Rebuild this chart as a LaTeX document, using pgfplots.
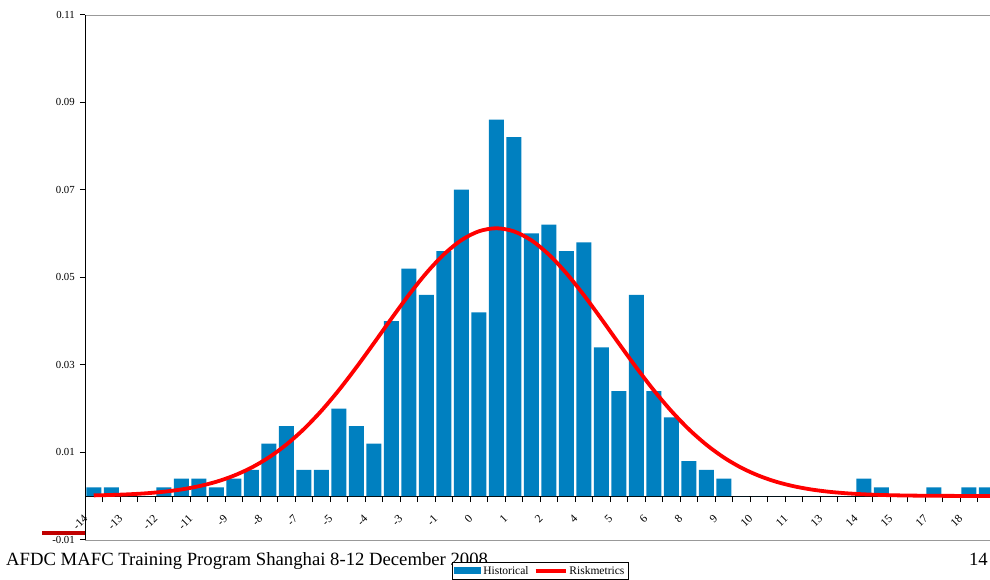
\documentclass[border=0pt]{standalone}
\usepackage{pgfplots}
\pgfplotsset{compat=1.18}
\usepackage{fontspec}
\setmainfont{Liberation Serif}
\definecolor{barblue}{HTML}{0080C0}
\definecolor{darkred}{HTML}{C00000}
\begin{document}
\begin{tikzpicture}
\useasboundingbox (0pt,0pt) rectangle (990pt,579pt);
% footer text (drawn first so the legend covers it)
\node[anchor=base west, inner sep=0pt, font=\fontsize{18.7}{20}\selectfont] at (6pt,14pt) {AFDC MAFC Training Program Shanghai 8-12 December 2008};
\node[anchor=base east, inner sep=0pt, font=\fontsize{18.7}{20}\selectfont] at (988pt,14pt) {14};
% decorative mark
\draw[darkred, line width=4.5pt] (42pt,46pt) -- (85pt,46pt);
% plot area frame (top and bottom)
\draw[gray!80, line width=0.8pt] (85pt,564pt) -- (1005pt,564pt);
\draw[gray!80, line width=0.8pt] (85pt,39pt) -- (1005pt,39pt);
\begin{axis}[
  at={(85pt,83pt)}, anchor=origin,
  scale only axis, width=920pt, height=525pt,
  xmin=0, xmax=52.57, ymin=-0.01, ymax=0.11,
  axis x line=middle, axis y line=left,
  axis line style={-, black, line width=0.8pt},
  tick align=outside,
  xtick={0.5,2.5,...,50.5},
  xticklabels={-14,-13,-12,-11,-9,-8,-7,-5,-4,-3,-1,0,1,2,4,5,6,8,9,10,11,13,14,15,17,18},
  minor xtick={0,1,...,53},
  major x tick style={draw=none},
  minor x tick style={black, line width=0.6pt},
  minor tick length=6pt,
  major tick length=5pt,
  ytick={-0.01,0.01,0.03,0.05,0.07,0.09,0.11},
  yticklabels={-0.01,0.01,0.03,0.05,0.07,0.09,0.11},
  y tick style={black, line width=0.6pt},
  yticklabel style={font=\fontsize{10.8}{12}\selectfont, inner sep=0pt, xshift=-5pt},
  xticklabel style={font=\fontsize{11.5}{12}\selectfont, xshift=-8pt, yshift=-16pt, rotate=45, anchor=east, inner sep=0pt},
  /pgf/number format/assume math mode=true,
  legend columns=2,
  legend style={at={(axis description cs:0.3989,-0.0419)}, anchor=north west,
    draw=black, line width=0.6pt, fill=white, inner xsep=2pt, inner ysep=2pt,
    font=\fontsize{11.5}{12.5}\selectfont,
    /tikz/every even column/.append style={column sep=3pt}},
]
\addplot[ybar, bar width=15pt, fill=barblue, draw=none,
  legend image code/.code={\fill[barblue] (0pt,-3.5pt) rectangle (27pt,3.5pt);}]
coordinates {
(0.5,0.002) (1.5,0.002) (2.5,0) (3.5,0) (4.5,0.002) (5.5,0.004) (6.5,0.004) (7.5,0.002)
(8.5,0.004) (9.5,0.006) (10.5,0.012) (11.5,0.016) (12.5,0.006) (13.5,0.006) (14.5,0.020)
(15.5,0.016) (16.5,0.012) (17.5,0.040) (18.5,0.052) (19.5,0.046) (20.5,0.056) (21.5,0.070)
(22.5,0.042) (23.5,0.086) (24.5,0.082) (25.5,0.060) (26.5,0.062) (27.5,0.056) (28.5,0.058)
(29.5,0.034) (30.5,0.024) (31.5,0.046) (32.5,0.024) (33.5,0.018) (34.5,0.008) (35.5,0.006)
(36.5,0.004) (37.5,0) (38.5,0) (39.5,0) (40.5,0) (41.5,0) (42.5,0) (43.5,0) (44.5,0.004)
(45.5,0.002) (46.5,0) (47.5,0) (48.5,0.002) (49.5,0) (50.5,0.002) (51.5,0.002)
};
\addlegendentry{Historical}
\addplot[red, line width=3.8pt, smooth, mark=none,
  legend image code/.code={\draw[red, line width=3.8pt] (0pt,0pt) -- (30pt,0pt);}]
coordinates {
(0.5,0.000142) (1.5,0.000238) (2.5,0.000389) (3.5,0.000623) (4.5,0.000975) (5.5,0.00149)
(6.5,0.00223) (7.5,0.00325) (8.5,0.00464) (9.5,0.00646) (10.5,0.00881) (11.5,0.01174)
(12.5,0.01527) (13.5,0.01944) (14.5,0.02417) (15.5,0.02938) (16.5,0.03489) (17.5,0.04050)
(18.5,0.04594) (19.5,0.05094) (20.5,0.05520) (21.5,0.05846) (22.5,0.06050) (23.5,0.0612)
(24.5,0.06050) (25.5,0.05846) (26.5,0.05520) (27.5,0.05094) (28.5,0.04594) (29.5,0.04050)
(30.5,0.03489) (31.5,0.02938) (32.5,0.02417) (33.5,0.01944) (34.5,0.01527) (35.5,0.01174)
(36.5,0.00881) (37.5,0.00646) (38.5,0.00464) (39.5,0.00325) (40.5,0.00223) (41.5,0.00149)
(42.5,0.000975) (43.5,0.000623) (44.5,0.000389) (45.5,0.000238) (46.5,0.000142)
(47.5,0.0000828) (48.5,0.0000472) (49.5,0.0000263) (50.5,0.0000143) (51.5,0.0000076) (52.5,0.000004)
};
\addlegendentry{Riskmetrics}
\end{axis}
\end{tikzpicture}
\end{document}
